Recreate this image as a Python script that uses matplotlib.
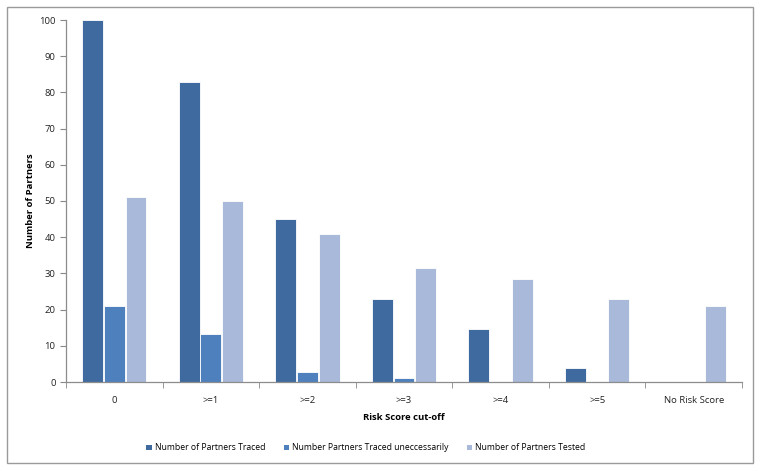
import matplotlib
matplotlib.use("Agg")
import matplotlib.pyplot as plt
from matplotlib.patches import Rectangle, Patch
import numpy as np

categories = ["0", ">=1", ">=2", ">=3", ">=4", ">=5", "No Risk Score"]
traced = [100, 83, 45, 23, 14.7, 3.8, 0]
traced_unnecessarily = [21, 13.3, 2.8, 1.1, 0, 0, 0]
tested = [51, 50, 41, 31.5, 28.5, 23, 21]
series_names = ["Number of Partners Traced", "Number Partners Traced uneccessarily",
                "Number of Partners Tested"]
colors = ["#3F6A9F", "#4E80BE", "#A9B9D9"]

plt.rcParams['font.family'] = ['Open Sans', 'DejaVu Sans']
W, H = 762, 471
fig = plt.figure(figsize=(W / 100, H / 100), dpi=100)
ax = fig.add_axes([66 / W, 1 - 382 / H, (742 - 66) / W, (382 - 20) / H])

x = np.arange(len(categories))
bw = 0.215
step = 0.225
for i, vals in enumerate([traced, traced_unnecessarily, tested]):
    ax.bar(x + (i - 1) * step, vals, width=bw, color=colors[i], label=series_names[i],
           edgecolor='white', linewidth=0.6, zorder=2)

ax.set_xlim(-0.5, len(categories) - 0.5)
ax.set_ylim(0, 100)
ax.set_yticks(np.arange(0, 101, 10))
ax.set_xticks(x)
ax.set_xticklabels(categories)
ax.set_xticks(np.arange(-0.5, len(categories), 1), minor=True)
ax.tick_params(axis='x', which='major', length=0, pad=10, labelsize=6.8, colors='#222222')
ax.tick_params(axis='x', which='minor', length=4, color='#888888', direction='out')
ax.tick_params(axis='y', length=4, color='#888888', labelsize=6.8, colors='#222222', direction='out')
for s in ['top', 'right']:
    ax.spines[s].set_visible(False)
for s in ['left', 'bottom']:
    ax.spines[s].set_color('#8C8C8C')
    ax.spines[s].set_linewidth(0.9)

ax.set_ylabel("Number of Partners", fontsize=6.8, fontweight='bold', labelpad=3)
ax.set_xlabel("Risk Score cut-off", fontsize=6.8, fontweight='bold', labelpad=6)

handles = [Patch(facecolor=c, edgecolor='none') for c in colors]
leg = fig.legend(handles, series_names, loc='center', bbox_to_anchor=(366 / W, 1 - 448 / H),
                 ncol=3, frameon=False, fontsize=6.2, handlelength=0.6, handleheight=0.6,
                 handletextpad=0.4, columnspacing=2.1)

fig.patches.append(Rectangle((7 / W, 1 - 463 / H), (753 - 7) / W, (463 - 7) / H,
                             transform=fig.transFigure, fill=False,
                             edgecolor='#9A9A9A', linewidth=1.0))

fig.savefig("out.png", dpi=100)
